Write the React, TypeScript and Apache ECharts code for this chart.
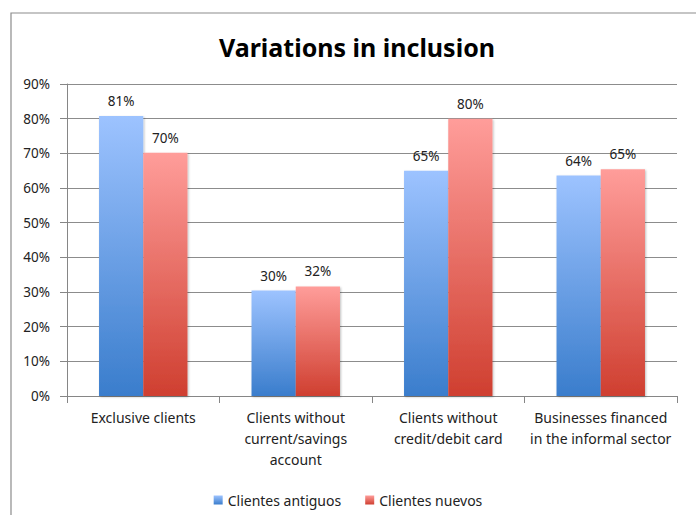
import React, { useEffect, useRef } from "react";
import * as echarts from "echarts";

const categories = [
  "Exclusive clients",
  "Clients without\ncurrent/savings\naccount",
  "Clients without\ncredit/debit card",
  "Businesses financed\nin the informal sector",
];
const antiguos = [80.8, 30.4, 65.0, 63.6];
const nuevos = [70.2, 31.6, 80.0, 65.4];
const seriesNames = ["Clientes antiguos", "Clientes nuevos"];
const yTicks = [0, 10, 20, 30, 40, 50, 60, 70, 80, 90];

const FONT = "'Noto Sans', 'Open Sans', sans-serif";

export default function App() {
  const ref = useRef<HTMLDivElement>(null);
  useEffect(() => {
    document.body.style.margin = "0";
    const chart = echarts.init(ref.current!, null, { renderer: "svg" });
    const grad = (top: string, bottom: string) =>
      new echarts.graphic.LinearGradient(0, 0, 0, 1, [
        { offset: 0, color: top },
        { offset: 1, color: bottom },
      ]);
    const label = {
      show: true,
      position: "top" as const,
      distance: 8,
      fontFamily: FONT,
      fontSize: 13.5,
      color: "#222",
      formatter: (p: any) => Math.round(p.value) + "%",
    };
    chart.setOption({
      animation: false,
      backgroundColor: "#fff",
      title: {
        text: "Variations in inclusion",
        left: 352,
        textAlign: "center",
        top: 29,
        textStyle: { fontFamily: FONT, fontSize: 25, fontWeight: "bold", color: "#000" },
      },
      graphic: [
        {
          type: "rect",
          shape: { x: 11, y: 13, width: 720, height: 540 },
          style: { fill: "none", stroke: "#8c8c8c", lineWidth: 1.2 },
          silent: true,
        },
      ],
      legend: {
        top: 488,
        left: "center",
        itemWidth: 9,
        itemHeight: 9,
        itemGap: 24,
        icon: "rect",
        textStyle: { fontFamily: FONT, fontSize: 14, color: "#222" },
        data: seriesNames,
      },
      grid: { left: 67, right: 19, top: 84, bottom: 119, containLabel: false },
      xAxis: {
        type: "category",
        data: categories,
        axisLine: { lineStyle: { color: "#868686" } },
        axisTick: { show: true, length: 7, alignWithLabel: false, lineStyle: { color: "#868686" } },
        axisLabel: {
          interval: 0,
          margin: 11,
          lineHeight: 21,
          fontFamily: FONT,
          fontSize: 14,
          color: "#222",
        },
      },
      yAxis: {
        type: "value",
        min: yTicks[0],
        max: yTicks[yTicks.length - 1],
        interval: 10,
        axisLine: { show: true, lineStyle: { color: "#868686" } },
        axisTick: { show: true, length: 7, lineStyle: { color: "#868686" } },
        splitLine: { lineStyle: { color: "#8c8c8c", width: 1 } },
        axisLabel: {
          margin: 17,
          fontFamily: FONT,
          fontSize: 13.5,
          color: "#222",
          formatter: "{value}%",
        },
      },
      series: [
        {
          name: seriesNames[0],
          type: "bar",
          data: antiguos,
          barGap: "0%",
          barCategoryGap: "42%",
          itemStyle: {
            color: grad("#9dc3ff", "#3a7dcc"),
            shadowColor: "rgba(0,0,0,0.25)",
            shadowBlur: 2,
            shadowOffsetX: 1,
            shadowOffsetY: 1,
          },
          label,
        },
        {
          name: seriesNames[1],
          type: "bar",
          data: nuevos,
          barGap: "0%",
          barCategoryGap: "42%",
          itemStyle: {
            color: grad("#ff9d9a", "#cf3f30"),
            shadowColor: "rgba(0,0,0,0.25)",
            shadowBlur: 2,
            shadowOffsetX: 1,
            shadowOffsetY: 1,
          },
          label,
        },
      ],
    });
    return () => chart.dispose();
  }, []);
  return (
    <div
      ref={ref}
      style={{ position: "absolute", left: 0, top: 0, width: 696, height: 515 }}
    />
  );
}
